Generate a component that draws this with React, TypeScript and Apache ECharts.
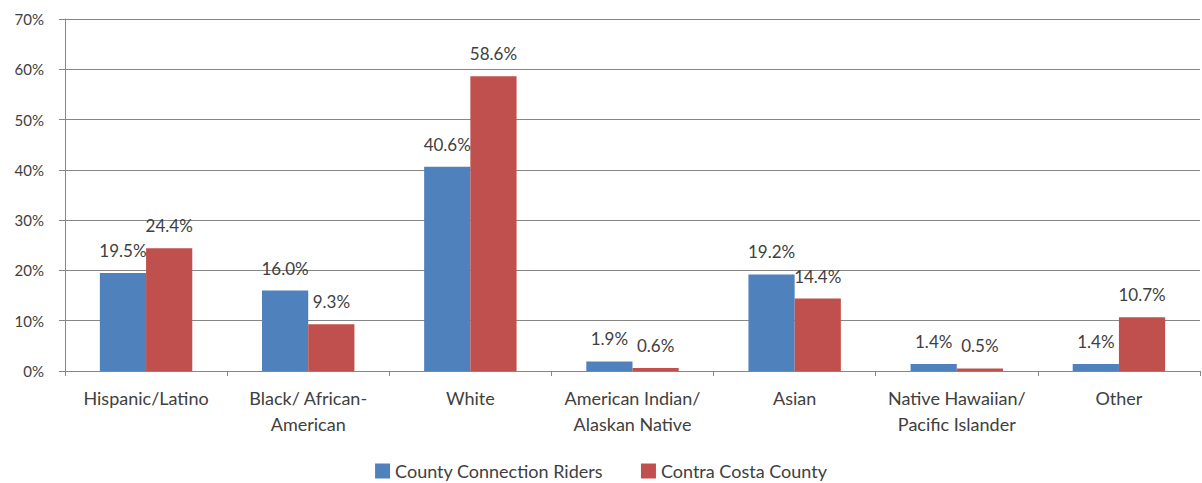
import React, { useEffect, useRef } from "react";
import * as echarts from "echarts";

const categories = [
  "Hispanic/Latino",
  "Black/ African-\nAmerican",
  "White",
  "American Indian/\nAlaskan Native",
  "Asian",
  "Native Hawaiian/\nPacific Islander",
  "Other",
];
const riders = [19.5, 16.0, 40.6, 1.9, 19.2, 1.4, 1.4];
const county = [24.4, 9.3, 58.6, 0.6, 14.4, 0.5, 10.7];
const seriesNames = ["County Connection Riders", "Contra Costa County"];

const FONT = "Lato, 'Open Sans', sans-serif";
const TEXT = "#404040";

export default function App() {
  const ref = useRef<HTMLDivElement>(null);
  useEffect(() => {
    if (!ref.current) return;
    const chart = echarts.init(ref.current, undefined, { renderer: "svg" });
    const label = {
      show: true,
      position: "top" as const,
      distance: 14,
      color: TEXT,
      fontFamily: FONT,
      fontSize: 17,
      formatter: (p: any) => p.value.toFixed(1) + "%",
    };
    chart.setOption({
      animation: false,
      backgroundColor: "#ffffff",
      textStyle: { fontFamily: FONT },
      grid: { left: 65, right: 2, top: 19, bottom: 112, containLabel: false },
      legend: {
        top: 457,
        left: "center",
        padding: [5, 5, 2, 5],
        itemWidth: 15,
        itemHeight: 15,
        itemGap: 38,
        icon: "rect",
        textStyle: { color: TEXT, fontFamily: FONT, fontSize: 18 },
        data: seriesNames,
      },
      xAxis: {
        type: "category",
        data: categories,
        axisLine: { lineStyle: { color: "#868686" } },
        axisTick: { show: true, length: 5, lineStyle: { color: "#868686" } },
        axisLabel: {
          color: TEXT,
          fontFamily: FONT,
          fontSize: 18,
          lineHeight: 26,
          margin: 14,
          interval: 0,
        },
      },
      yAxis: {
        type: "value",
        min: 0,
        max: 70,
        interval: 10,
        axisLine: { show: true, lineStyle: { color: "#868686" } },
        axisTick: { show: true, length: 6, lineStyle: { color: "#868686" } },
        splitLine: { lineStyle: { color: "#868686" } },
        axisLabel: {
          color: TEXT,
          fontFamily: FONT,
          fontSize: 15,
          margin: 21,
          formatter: "{value}%",
        },
      },
      series: [
        {
          name: seriesNames[0],
          type: "bar",
          data: riders,
          barGap: "0%",
          barCategoryGap: "43%",
          itemStyle: { color: "#4F81BD" },
          label,
        },
        {
          name: seriesNames[1],
          type: "bar",
          data: county,
          itemStyle: { color: "#C0504D" },
          label,
        },
      ],
    });
    return () => chart.dispose();
  }, []);
  return (
    <div
      ref={ref}
      style={{ position: "absolute", left: 0, top: 0, width: 1202, height: 483 }}
    />
  );
}
